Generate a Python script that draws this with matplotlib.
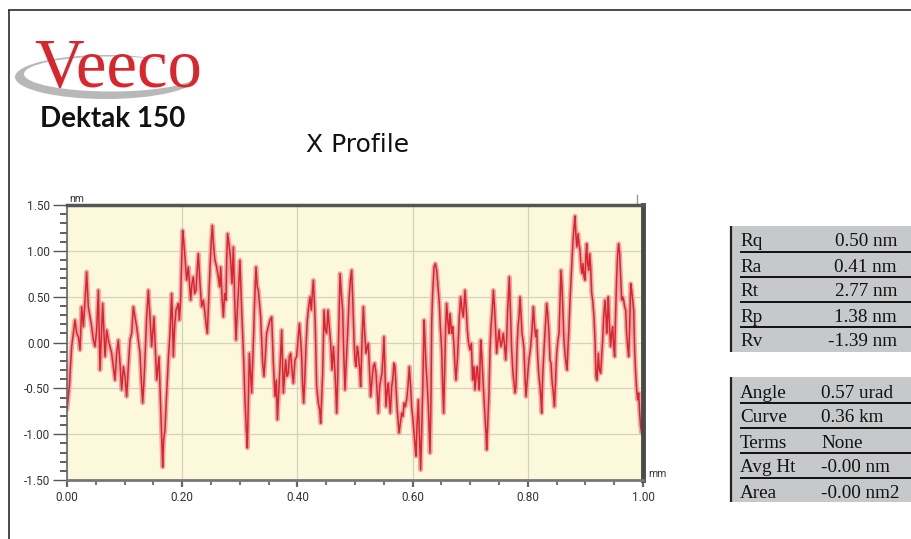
import matplotlib
matplotlib.use("Agg")
import matplotlib.pyplot as plt
from matplotlib.patches import Rectangle, Ellipse
from matplotlib.ticker import MultipleLocator

# ---- profile trace (scan position in mm, height in nm) ----
position_mm = [
    0.0000, 0.0040, 0.0081, 0.0139, 0.0168, 0.0197, 0.0226, 0.0255, 0.0284, 0.0313,
    0.0341, 0.0370, 0.0399, 0.0428, 0.0457, 0.0486, 0.0515, 0.0544, 0.0573, 0.0602,
    0.0619, 0.0660, 0.0689, 0.0718, 0.0747, 0.0775, 0.0804, 0.0833, 0.0862, 0.0891,
    0.0920, 0.0949, 0.0978, 0.1007, 0.1036, 0.1065, 0.1094, 0.1123, 0.1152, 0.1181,
    0.1209, 0.1238, 0.1267, 0.1290, 0.1314, 0.1337, 0.1360, 0.1383, 0.1412, 0.1441,
    0.1470, 0.1487, 0.1510, 0.1534, 0.1557, 0.1580, 0.1597, 0.1615, 0.1632, 0.1649,
    0.1661, 0.1678, 0.1701, 0.1719, 0.1742, 0.1765, 0.1788, 0.1817, 0.1834, 0.1846,
    0.1869, 0.1892, 0.1915, 0.1933, 0.1950, 0.1973, 0.1991, 0.2008, 0.2025, 0.2048,
    0.2077, 0.2106, 0.2130, 0.2147, 0.2170, 0.2193, 0.2216, 0.2240, 0.2263, 0.2280,
    0.2309, 0.2338, 0.2367, 0.2396, 0.2413, 0.2436, 0.2459, 0.2483, 0.2506, 0.2523,
    0.2546, 0.2569, 0.2598, 0.2627, 0.2650, 0.2668, 0.2691, 0.2714, 0.2737, 0.2760,
    0.2772, 0.2789, 0.2812, 0.2841, 0.2865, 0.2888, 0.2911, 0.2934, 0.2957, 0.2980,
    0.3003, 0.3032, 0.3061, 0.3090, 0.3113, 0.3131, 0.3148, 0.3166, 0.3189, 0.3206,
    0.3235, 0.3258, 0.3281, 0.3304, 0.3322, 0.3362, 0.3397, 0.3420, 0.3443, 0.3466,
    0.3495, 0.3524, 0.3553, 0.3582, 0.3611, 0.3634, 0.3652, 0.3675, 0.3698, 0.3727,
    0.3756, 0.3779, 0.3796, 0.3819, 0.3843, 0.3860, 0.3883, 0.3906, 0.3929, 0.3958,
    0.3987, 0.4010, 0.4034, 0.4057, 0.4074, 0.4091, 0.4109, 0.4132, 0.4149, 0.4172,
    0.4196, 0.4219, 0.4242, 0.4259, 0.4277, 0.4294, 0.4311, 0.4334, 0.4363, 0.4387,
    0.4404, 0.4421, 0.4439, 0.4462, 0.4485, 0.4508, 0.4531, 0.4554, 0.4578, 0.4601,
    0.4624, 0.4647, 0.4664, 0.4682, 0.4699, 0.4716, 0.4740, 0.4763, 0.4786, 0.4803,
    0.4826, 0.4844, 0.4861, 0.4878, 0.4896, 0.4919, 0.4942, 0.4965, 0.4983, 0.5000,
    0.5017, 0.5040, 0.5058, 0.5081, 0.5098, 0.5122, 0.5145, 0.5168, 0.5191, 0.5214,
    0.5231, 0.5255, 0.5272, 0.5295, 0.5318, 0.5341, 0.5365, 0.5388, 0.5405, 0.5428,
    0.5446, 0.5469, 0.5486, 0.5503, 0.5521, 0.5538, 0.5561, 0.5579, 0.5596, 0.5613,
    0.5637, 0.5654, 0.5677, 0.5694, 0.5712, 0.5729, 0.5747, 0.5764, 0.5787, 0.5810,
    0.5833, 0.5851, 0.5874, 0.5897, 0.5920, 0.5943, 0.5966, 0.5984, 0.6007, 0.6024,
    0.6042, 0.6059, 0.6076, 0.6100, 0.6117, 0.6140, 0.6157, 0.6175, 0.6186, 0.6198,
    0.6215, 0.6233, 0.6256, 0.6273, 0.6290, 0.6302, 0.6319, 0.6331, 0.6348, 0.6372,
    0.6395, 0.6418, 0.6441, 0.6464, 0.6481, 0.6505, 0.6522, 0.6539, 0.6557, 0.6574,
    0.6591, 0.6615, 0.6632, 0.6649, 0.6678, 0.6696, 0.6719, 0.6736, 0.6753, 0.6777,
    0.6794, 0.6811, 0.6834, 0.6858, 0.6881, 0.6910, 0.6933, 0.6950, 0.6973, 0.6997,
    0.7020, 0.7043, 0.7066, 0.7083, 0.7106, 0.7124, 0.7141, 0.7159, 0.7182, 0.7199,
    0.7216, 0.7240, 0.7257, 0.7274, 0.7286, 0.7303, 0.7326, 0.7344, 0.7361, 0.7384,
    0.7402, 0.7419, 0.7436, 0.7459, 0.7483, 0.7500, 0.7517, 0.7535, 0.7558, 0.7575,
    0.7598, 0.7616, 0.7633, 0.7650, 0.7668, 0.7679, 0.7697, 0.7720, 0.7743, 0.7760,
    0.7778, 0.7795, 0.7812, 0.7830, 0.7847, 0.7865, 0.7882, 0.7899, 0.7917, 0.7934,
    0.7951, 0.7969, 0.7986, 0.8009, 0.8027, 0.8050, 0.8073, 0.8096, 0.8119, 0.8137,
    0.8154, 0.8171, 0.8189, 0.8212, 0.8229, 0.8241, 0.8258, 0.8281, 0.8304, 0.8328,
    0.8345, 0.8368, 0.8385, 0.8403, 0.8420, 0.8443, 0.8461, 0.8478, 0.8501, 0.8524,
    0.8542, 0.8559, 0.8576, 0.8594, 0.8611, 0.8628, 0.8646, 0.8663, 0.8681, 0.8698,
    0.8715, 0.8733, 0.8750, 0.8767, 0.8785, 0.8802, 0.8819, 0.8837, 0.8854, 0.8871,
    0.8889, 0.8906, 0.8924, 0.8941, 0.8958, 0.8976, 0.8993, 0.9010, 0.9022, 0.9039,
    0.9057, 0.9074, 0.9091, 0.9109, 0.9126, 0.9149, 0.9167, 0.9184, 0.9201, 0.9225,
    0.9242, 0.9265, 0.9282, 0.9300, 0.9317, 0.9340, 0.9358, 0.9369, 0.9387, 0.9398,
    0.9416, 0.9439, 0.9456, 0.9473, 0.9491, 0.9508, 0.9525, 0.9543, 0.9560, 0.9577,
    0.9595, 0.9612, 0.9630, 0.9647, 0.9664, 0.9682, 0.9699, 0.9716, 0.9734, 0.9751,
    0.9769, 0.9786, 0.9803, 0.9821, 0.9838, 0.9855, 0.9873, 0.9890, 0.9907, 0.9925,
    0.9942, 0.9959, 0.9977, 0.9994, 1.0000,
]
height_nm = [
    -0.730, -0.480, -0.045, 0.245, 0.100, 0.063, -0.082, 0.390, 0.172, 0.462,
    0.770, 0.390, 0.280, 0.172, 0.027, -0.045, 0.136, 0.570, -0.300, 0.172,
    0.426, -0.154, 0.136, 0.027, -0.045, -0.118, -0.263, -0.410, -0.118, 0.027,
    -0.226, -0.516, -0.263, -0.370, -0.590, -0.263, 0.027, 0.100, 0.390, 0.280,
    0.172, 0.027, -0.118, -0.410, -0.660, -0.410, -0.082, 0.280, 0.570, 0.280,
    -0.045, 0.100, 0.280, -0.082, -0.410, -0.263, -0.154, -0.480, -0.806, -1.130,
    -1.360, -1.060, -0.950, -0.700, -0.410, -0.118, 0.100, 0.534, 0.172, -0.154,
    0.172, 0.353, 0.390, 0.426, 0.245, 0.462, 0.897, 1.223, 1.114, 0.933,
    0.680, 0.824, 0.607, 0.462, 0.643, 0.716, 0.534, 0.570, 0.824, 0.969,
    0.643, 0.390, 0.462, 0.317, 0.208, 0.100, 0.462, 0.824, 1.114, 1.277,
    1.042, 0.897, 0.824, 0.716, 0.607, 0.824, 0.498, 0.280, 0.534, 0.462,
    0.897, 1.187, 1.078, 0.897, 0.643, 1.042, 0.462, 0.027, 0.353, 0.607,
    0.897, 0.353, -0.082, -0.625, -0.950, -1.150, -0.625, -0.118, -0.370, -0.550,
    -0.010, 0.462, 0.824, 0.607, 0.570, 0.280, -0.226, -0.370, -0.154, 0.100,
    0.172, 0.245, 0.280, -0.226, -0.590, -0.410, -0.842, -0.550, -0.263, 0.136,
    -0.550, -0.335, -0.190, -0.370, -0.335, -0.154, -0.118, -0.300, -0.444, -0.190,
    -0.154, 0.027, 0.208, 0.027, -0.154, -0.480, -0.660, -0.335, -0.045, 0.245,
    0.390, 0.498, 0.353, 0.534, 0.680, 0.462, 0.172, -0.480, -0.660, -0.734,
    -0.880, -0.625, -0.335, 0.353, 0.136, 0.100, 0.353, 0.172, -0.010, -0.300,
    -0.045, -0.263, -0.480, -0.770, -0.410, 0.063, 0.752, 0.534, 0.353, -0.082,
    -0.516, -0.263, -0.045, 0.172, 0.462, 0.680, 0.788, 0.390, 0.027, -0.190,
    -0.263, -0.045, -0.118, -0.300, -0.480, 0.027, 0.390, 0.100, -0.118, -0.045,
    -0.010, -0.335, -0.590, -0.410, -0.263, -0.226, -0.335, -0.590, -0.770, -0.480,
    -0.410, -0.335, -0.154, 0.063, -0.335, -0.700, -0.516, -0.444, -0.625, -0.770,
    -0.480, -0.410, -0.226, -0.263, -0.480, -0.700, -0.842, -0.987, -0.880, -0.770,
    -0.806, -0.660, -0.700, -0.625, -0.480, -0.263, -0.480, -0.700, -0.842, -0.987,
    -1.130, -1.240, -0.915, -0.625, -0.987, -1.390, -0.987, -0.550, -0.154, 0.245,
    0.027, -0.263, -0.480, -0.700, -0.987, -1.205, -0.625, 0.208, 0.534, 0.824,
    0.860, 0.788, 0.607, 0.426, 0.172, -0.082, -0.480, -0.770, -0.263, 0.172,
    0.426, 0.208, 0.100, 0.317, 0.100, 0.172, -0.045, -0.263, -0.410, -0.190,
    0.027, 0.280, 0.498, 0.353, 0.280, 0.570, 0.353, 0.136, -0.010, -0.082,
    -0.010, -0.410, -0.263, -0.516, -0.335, -0.263, -0.410, -0.516, 0.027, -0.118,
    -0.335, -0.625, -0.806, -0.987, -1.170, -0.915, -0.550, -0.082, 0.172, 0.353,
    0.570, 0.426, 0.208, -0.118, 0.027, 0.136, 0.027, -0.045, 0.027, 0.100,
    -0.045, -0.190, 0.027, 0.353, 0.570, 0.716, 0.353, -0.082, -0.335, -0.444,
    -0.550, -0.480, -0.082, 0.172, 0.280, 0.498, 0.317, 0.100, 0.027, -0.082,
    -0.370, -0.590, -0.444, -0.263, -0.154, -0.045, 0.136, 0.390, 0.172, 0.063,
    0.136, -0.154, -0.335, -0.480, -0.625, -0.770, -0.370, -0.082, 0.172, 0.426,
    0.317, 0.100, -0.190, -0.226, -0.410, -0.550, -0.700, -0.480, -0.118, 0.027,
    0.100, 0.462, 0.788, 0.607, 0.317, 0.027, -0.118, -0.226, -0.300, -0.045,
    0.172, 0.462, 0.680, 0.897, 1.114, 1.259, 1.380, 1.150, 1.042, 1.187,
    1.078, 1.005, 0.824, 0.752, 0.860, 0.716, 0.680, 0.969, 1.078, 0.860,
    0.788, 0.969, 0.824, 0.534, 0.462, 0.280, 0.027, -0.370, -0.410, -0.118,
    -0.300, -0.335, -0.154, 0.027, 0.280, 0.462, 0.280, 0.100, 0.317, 0.498,
    0.208, -0.045, 0.100, 0.172, -0.045, -0.154, 0.317, 0.716, 0.969, 1.078,
    0.969, 0.716, 0.462, 0.498, 0.462, 0.390, 0.353, 0.100, -0.045, -0.154,
    0.172, 0.643, 0.570, 0.462, 0.353, -0.082, -0.335, -0.516, -0.625, -0.550,
    -0.770, -0.915, -0.987, -0.700, -0.620,
]

x_ticks = [0.0, 0.2, 0.4, 0.6, 0.8, 1.0]
y_ticks = [-1.5, -1.0, -0.5, 0.0, 0.5, 1.0, 1.5]

# ---- result panels ----
roughness_labels = ["Rq", "Ra", "Rt", "Rp", "Rv"]
roughness_values = ["0.50 nm", "0.41 nm", "2.77 nm", "1.38 nm", "-1.39 nm"]
fit_labels = ["Angle", "Curve", "Terms", "Avg Ht", "Area"]
fit_values = ["0.57 urad", "0.36 km", "None", "-0.00 nm", "-0.00 nm2"]

plt.rcParams["font.family"] = ["Roboto", "DejaVu Sans"]

W, H = 911, 539
fig = plt.figure(figsize=(W / 100, H / 100), dpi=100)
fig.patch.set_facecolor("white")

# page layer in pixel units (y grows downward)
page = fig.add_axes([0, 0, 1, 1], zorder=0)
page.set_xlim(0, W)
page.set_ylim(H, 0)
page.axis("off")

# page frame
page.plot([8, W], [10, 10], color="#2b2b2b", lw=1.2, solid_capstyle="butt")
page.plot([9, 9], [10, H], color="#2b2b2b", lw=1.2, solid_capstyle="butt")

# logo
page.add_patch(Ellipse((106, 77), 182, 44, fc="#b8b8b8", ec="none"))
page.add_patch(Ellipse((111, 74), 174, 35, fc="white", ec="none"))
page.text(34, 87, "Veeco", family="Liberation Serif", fontsize=49.5,
          color="#d9262c", ha="left", va="baseline")
page.text(40, 127, "Dektak 150", family="Lato", fontweight="bold",
          fontsize=20, color="#111111", ha="left", va="baseline")

# title
page.text(358, 152, "X Profile", family="DejaVu Sans", fontsize=18,
          color="#111111", ha="center", va="baseline")

# axis unit labels
page.text(69, 199, "nm", fontsize=7.5, color="#333333", ha="left", va="center")
page.text(648, 474, "mm", fontsize=7.5, color="#333333", ha="left", va="center")
page.plot([637, 637], [195, 203], color="#999999", lw=1)


def draw_panel(top, bottom, labels, values, value_x, value_ha):
    page.add_patch(Rectangle((730, top), W - 730, bottom - top,
                             fc="#c7c8ca", ec="none"))
    page.plot([731, 731], [top, bottom], color="#222222", lw=1.6,
              solid_capstyle="butt")
    base0 = top + 20.5
    for i, (lab, val) in enumerate(zip(labels, values)):
        base = base0 + 25 * i
        page.text(740, base, lab, family="Liberation Serif", fontsize=13.8,
                  color="#111111", ha="left", va="baseline")
        page.text(value_x, base, val, family="Liberation Serif",
                  fontsize=13.8, color="#111111", ha=value_ha, va="baseline")
        if i < len(labels) - 1:
            page.plot([740, W], [base + 5.5, base + 5.5], color="#111111",
                      lw=1.4, solid_capstyle="butt")


draw_panel(226, 352, roughness_labels, roughness_values, 897, "right")
draw_panel(377, 502, fit_labels, fit_values, 821, "left")

# profile plot
ax = fig.add_axes([67 / W, 1 - 480 / H, (643 - 67) / W, (480 - 205) / H],
                  zorder=1)
ax.set_facecolor("#fcf8dc")
ax.set_xlim(0, 1)
ax.set_ylim(-1.5, 1.5)
ax.set_axisbelow(True)
ax.grid(True, which="major", color="#d4d2be", lw=0.9)

# soft halo under the trace, then the trace itself
ax.plot(position_mm, height_nm, color="#f3a5a5", lw=3.4,
        solid_joinstyle="round", solid_capstyle="round")
ax.plot(position_mm, height_nm, color="#d8262c", lw=1.1,
        solid_joinstyle="round")

ax.set_xticks(x_ticks)
ax.set_xticklabels([f"{v:.2f}" for v in x_ticks])
ax.set_yticks(y_ticks)
ax.set_yticklabels([f"{v:.2f}" for v in y_ticks])
ax.xaxis.set_minor_locator(MultipleLocator(0.05))
ax.yaxis.set_minor_locator(MultipleLocator(0.1))

ax.tick_params(axis="y", which="major", direction="out", length=10, width=1,
               color="#555555", pad=2, labelsize=8.5, labelcolor="#333333")
ax.tick_params(axis="y", which="minor", direction="out", length=5, width=1.3,
               color="#555555")
ax.tick_params(axis="x", which="major", direction="out", length=5, width=1.6,
               color="#666666", pad=3, labelsize=8.5, labelcolor="#333333")
ax.tick_params(axis="x", which="minor", direction="out", length=3.5, width=1.5,
               color="#777777")

ax.spines["top"].set_color("#555555")
ax.spines["top"].set_linewidth(2.5)
ax.spines["right"].set_color("#4a4a4a")
ax.spines["right"].set_linewidth(3.5)
ax.spines["bottom"].set_color("#777777")
ax.spines["bottom"].set_linewidth(2)
ax.spines["left"].set_color("#666666")
ax.spines["left"].set_linewidth(1.2)

fig.savefig("out.png", dpi=100, facecolor="white")
